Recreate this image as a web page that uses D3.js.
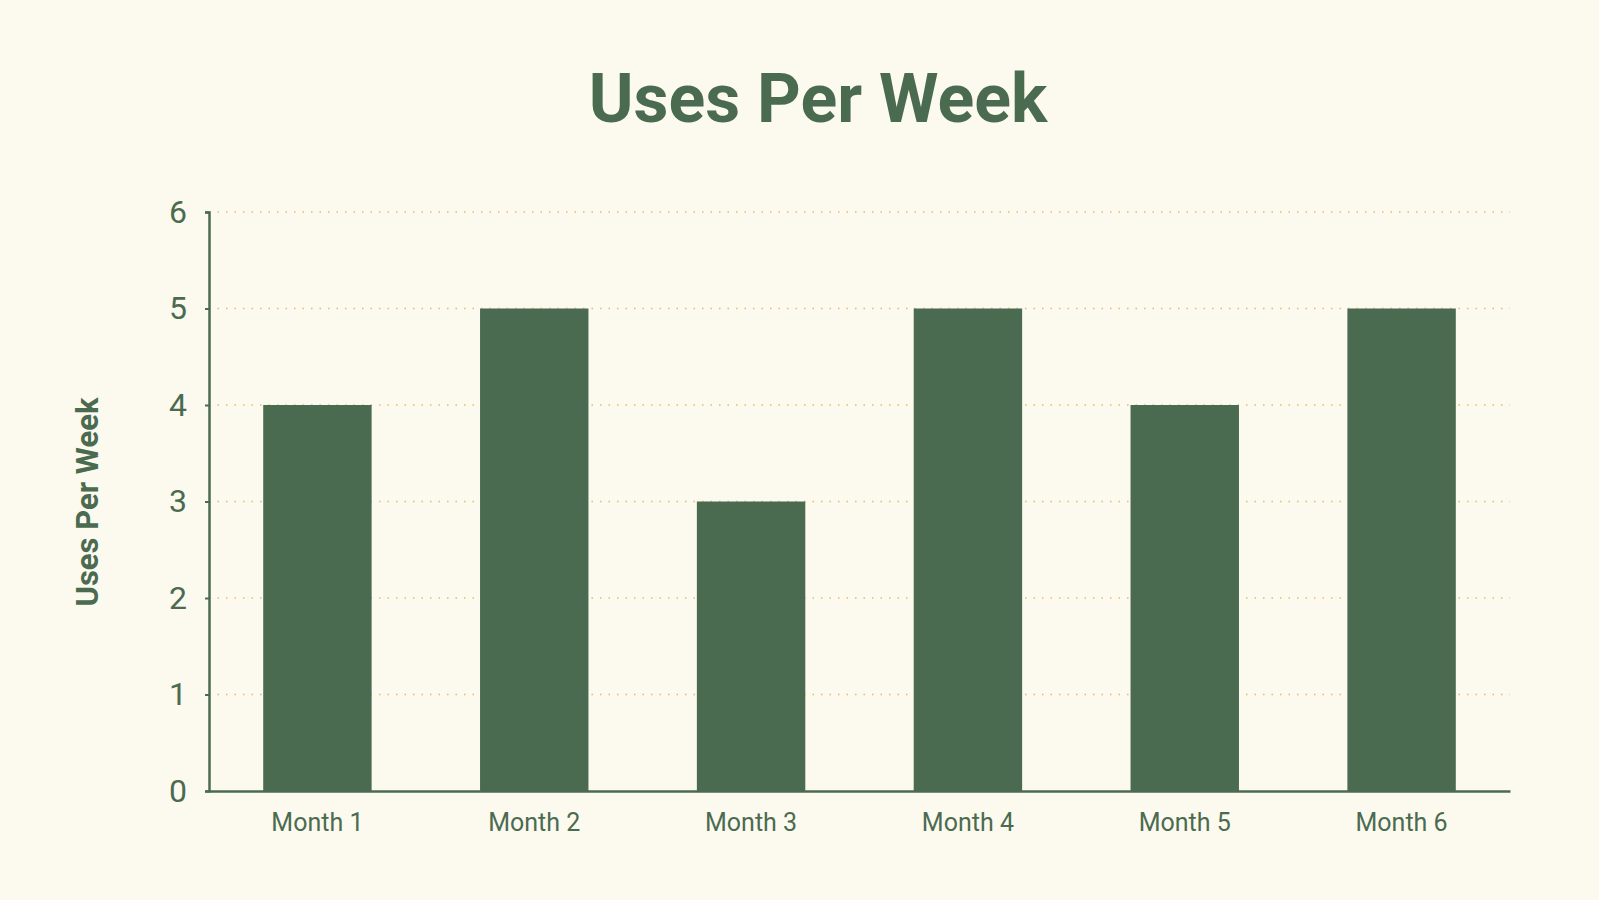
<!DOCTYPE html>
<html>
<head>
<meta charset="utf-8">
<script src="https://cdn.jsdelivr.net/npm/d3@7.9.0/dist/d3.min.js"></script>
<style>
  body { margin: 0; background: #fcf9ee; }
  svg { display: block; font-family: Roboto, sans-serif; }
</style>
</head>
<body>
<svg id="chart" width="1599" height="900"></svg>
<script>
const months = ['Month 1', 'Month 2', 'Month 3', 'Month 4', 'Month 5', 'Month 6'];
const uses = [4, 5, 3, 5, 4, 5];
const yTicks = [0, 1, 2, 3, 4, 5, 6];

const green = '#4b6b50';
const svg = d3.select('#chart');
svg.append('rect').attr('width', 1599).attr('height', 900).attr('fill', '#fcf9ee');

const margin = { left: 209, right: 89, top: 212, bottom: 109 };
const x = d3.scaleBand().domain(months).range([margin.left, 1599 - margin.right])
  .paddingInner(0.5).paddingOuter(0.25);
const y = d3.scaleLinear().domain([0, 6]).range([900 - margin.bottom, margin.top]);

// title
svg.append('text').attr('x', 818).attr('y', 122).attr('text-anchor', 'middle')
  .attr('font-size', 68).attr('font-weight', 700).attr('fill', green)
  .text('Uses Per Week');

// grid
svg.append('g').selectAll('line').data(yTicks.slice(1)).join('line')
  .attr('x1', margin.left).attr('x2', 1599 - margin.right)
  .attr('y1', d => y(d)).attr('y2', d => y(d))
  .attr('stroke', '#f0b860').attr('stroke-width', 1.5).attr('stroke-dasharray', '1.5 7');

// bars
svg.append('g').selectAll('rect').data(uses).join('rect')
  .attr('x', (d, i) => x(months[i])).attr('width', x.bandwidth())
  .attr('y', d => y(d)).attr('height', d => y(0) - y(d))
  .attr('fill', green);

// y axis
const yAxis = svg.append('g').attr('transform', `translate(${margin.left},0)`)
  .call(d3.axisLeft(y).tickValues(yTicks).tickFormat(d3.format('d')).tickSize(4).tickPadding(18));
yAxis.select('.domain').attr('stroke', green).attr('stroke-width', 2.5);
yAxis.selectAll('.tick line').attr('stroke', green).attr('stroke-width', 2);
yAxis.selectAll('.tick text').attr('fill', green).attr('font-size', 32)
  .attr('font-family', 'Roboto, sans-serif');

// x axis
const xAxis = svg.append('g').attr('transform', `translate(0,${y(0)})`)
  .call(d3.axisBottom(x).tickSize(0).tickPadding(22));
xAxis.select('.domain').attr('stroke', green).attr('stroke-width', 2.5);
xAxis.selectAll('.tick text').attr('fill', green).attr('font-size', 25)
  .attr('font-family', 'Roboto, sans-serif');

// y label
svg.append('text').attr('transform', 'translate(98,502) rotate(-90)')
  .attr('text-anchor', 'middle').attr('font-size', 31).attr('font-weight', 700)
  .attr('fill', green).text('Uses Per Week');
</script>
</body>
</html>
